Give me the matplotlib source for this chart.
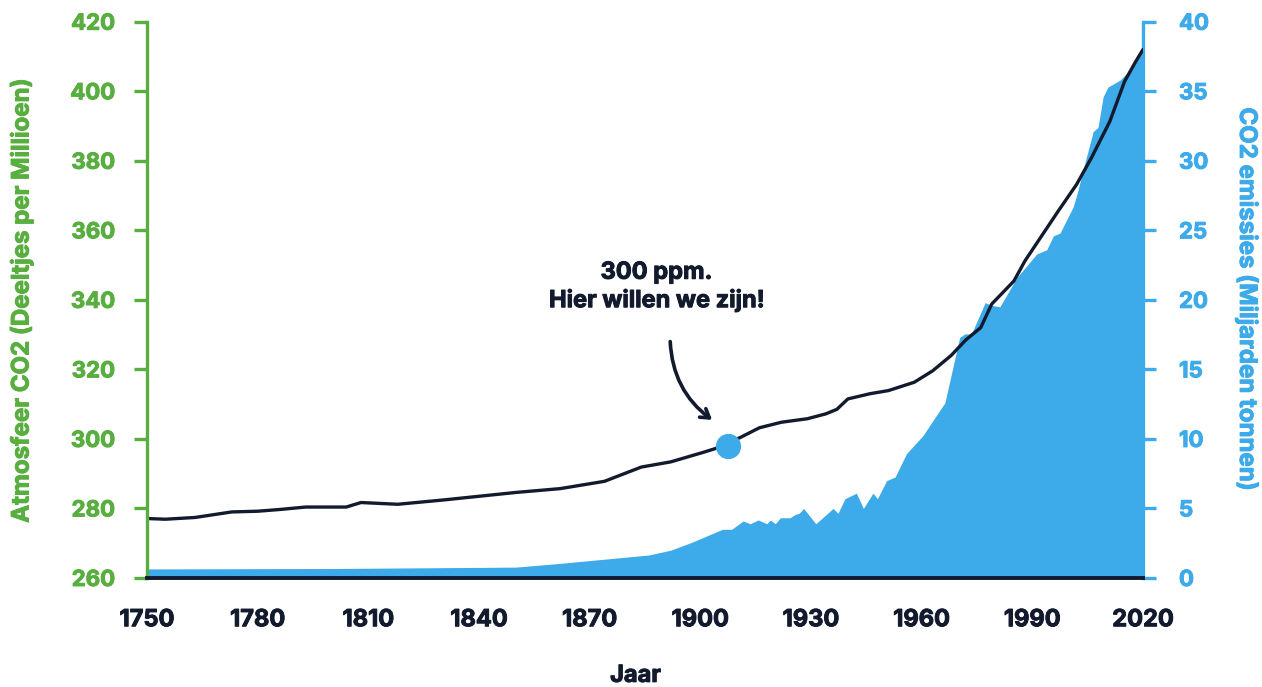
import matplotlib.pyplot as plt
import matplotlib.patheffects as pe

# Atmospheric CO2 (ppm)
co2_years = [1750, 1755, 1763, 1773, 1780, 1786, 1791, 1793, 1804, 1808, 1818, 1830, 1840,
             1850, 1862, 1874, 1884, 1892, 1901, 1904, 1911, 1916, 1922, 1929, 1934, 1937,
             1940, 1946, 1951, 1958, 1963, 1968, 1972, 1976, 1979, 1985, 1988, 1997, 2002,
             2006, 2011, 2015, 2018, 2020]
co2_ppm = [277.1, 276.9, 277.4, 279.0, 279.2, 279.7, 280.2, 280.4, 280.4, 281.7, 281.2, 282.4, 283.5,
           284.6, 285.7, 287.8, 291.9, 293.4, 296.2, 297.2, 300.5, 303.2, 304.8, 305.8, 307.2, 308.5,
           311.5, 313.0, 313.9, 316.3, 319.6, 324.0, 328.5, 332.0, 338.8, 345.4, 351.2, 365.5, 373.2,
           380.8, 391.3, 402.8, 408.5, 412.0]

# CO2 emissions (billion tonnes)
em_years = [1750, 1800, 1850, 1862, 1886, 1892, 1898, 1906, 1908.5, 1911.6, 1913.5, 1915.7, 1918,
            1919, 1920.3, 1921.7, 1924.3, 1925.7, 1926.8, 1928, 1931.3, 1936, 1937.3, 1939.2,
            1942.3, 1944.2, 1946.8, 1948, 1950.5, 1952.8, 1955.9, 1960.4, 1963, 1966.3, 1970.3,
            1971.7, 1973.5, 1977.2, 1979, 1981.2, 1985.8, 1991.2, 1993.9, 1995.7, 1997.5, 2001.1,
            2002.4, 2004.7, 2006.5, 2007.8, 2009.2, 2010.5, 2013.8, 2015.6, 2018.3, 2020]
em_values = [0.65, 0.68, 0.78, 1.05, 1.65, 2.0, 2.6, 3.5, 3.5, 4.1, 3.9, 4.17, 3.9,
             4.17, 3.9, 4.33, 4.33, 4.57, 4.65, 5.0, 3.9, 5.0, 4.65, 5.7,
             6.1, 5.0, 6.1, 5.7, 7.0, 7.26, 8.95, 10.25, 11.3, 12.6, 17.3,
             17.55, 17.55, 19.8, 19.6, 19.5, 21.6, 23.3, 23.6, 24.6, 24.8, 26.7,
             27.9, 30.3, 32.1, 32.4, 34.6, 35.3, 35.8, 36.3, 37.2, 38.0]

x_ticks = [1750, 1780, 1810, 1840, 1870, 1900, 1930, 1960, 1990, 2020]
left_ticks = [260, 280, 300, 320, 340, 360, 380, 400, 420]
right_ticks = [0, 5, 10, 15, 20, 25, 30, 35, 40]

marker_year = 1907.6
marker_ppm = 298.1

GREEN = '#58ae3f'
BLUE = '#3daae9'
NAVY = '#121a2e'


def heavy(txt, color, lw=0.7):
    # thicken the glyphs a little, the reference font is very bold
    txt.set_fontweight('bold')
    txt.set_path_effects([pe.withStroke(linewidth=lw, foreground=color)])


plt.rcParams['font.family'] = ['Inter', 'DejaVu Sans']

fig = plt.figure(figsize=(12.62, 6.87), dpi=100)
ax1 = fig.add_axes([0.1165, 0.1587, 0.7892, 0.8097])
ax2 = ax1.twinx()

# emissions area on the right axis, behind the ppm line
ax2.fill_between(em_years, em_values, 0, color=BLUE, linewidth=0)
ax2.set_ylim(0, 40)
ax2.set_yticks(right_ticks)

ax1.set_zorder(ax2.get_zorder() + 1)
ax1.patch.set_visible(False)
ax1.plot(co2_years, co2_ppm, color=NAVY, linewidth=2.4, solid_capstyle='round')
ax1.scatter([marker_year], [marker_ppm], s=330, color=BLUE, zorder=5, linewidths=0)
ax1.set_ylim(260, 420)
ax1.set_xlim(1750, 2020)
ax1.set_yticks(left_ticks)
ax1.set_xticks(x_ticks)

# spines
for ax in (ax1, ax2):
    ax.spines['top'].set_visible(False)
ax1.spines['right'].set_visible(False)
ax2.spines['left'].set_visible(False)
ax2.spines['bottom'].set_visible(False)
ax1.spines['left'].set_color(GREEN)
ax1.spines['left'].set_linewidth(2.4)
ax2.spines['right'].set_color(BLUE)
ax2.spines['right'].set_linewidth(2.4)
ax1.spines['bottom'].set_color(NAVY)
ax1.spines['bottom'].set_linewidth(2.8)
ax1.spines['bottom'].set_zorder(6)

ax1.tick_params(axis='y', colors=GREEN, length=9.4, width=2.4, pad=13.5, labelsize=16)
ax2.tick_params(axis='y', colors=BLUE, length=9.4, width=2.4, pad=16.5, labelsize=16)
ax1.tick_params(axis='x', colors=NAVY, length=0, pad=22.5, labelsize=17)
for lab in ax1.get_xticklabels():
    heavy(lab, NAVY)
for lab in ax1.get_yticklabels():
    heavy(lab, GREEN)
for lab in ax2.get_yticklabels():
    heavy(lab, BLUE)

ax1.set_ylabel('Atmosfeer CO2 (Deeltjes per Millioen)', color=GREEN, fontsize=17.3)
ax1.yaxis.set_label_coords(-0.1255, 0.5)
ax1.yaxis.label.set_va('center')
heavy(ax1.yaxis.label, GREEN)
ax2.set_ylabel('CO2 emissies (Miljarden tonnen)', color=BLUE, fontsize=17.3,
               rotation=-90, va='center')
ax2.yaxis.set_label_coords(1.104, 0.5)
heavy(ax2.yaxis.label, BLUE)
ax1.set_xlabel('Jaar', color=NAVY, fontsize=17)
ax1.xaxis.set_label_coords(0.4905, -0.176)
ax1.xaxis.label.set_va('center')
heavy(ax1.xaxis.label, NAVY)

# annotation
note = ax1.text(1888.2, 343.7, '300 ppm.\nHier willen we zijn!', ha='center', va='center',
                fontsize=17, color=NAVY, linespacing=1.3)
heavy(note, NAVY)
ax1.annotate('', xy=(1903.8, 305.0), xytext=(1891.8, 328.8),
             arrowprops=dict(arrowstyle='->,head_length=0.6,head_width=0.38',
                             color=NAVY, linewidth=2.6,
                             connectionstyle='arc3,rad=0.25'))

fig.savefig('out.png', dpi=100)
